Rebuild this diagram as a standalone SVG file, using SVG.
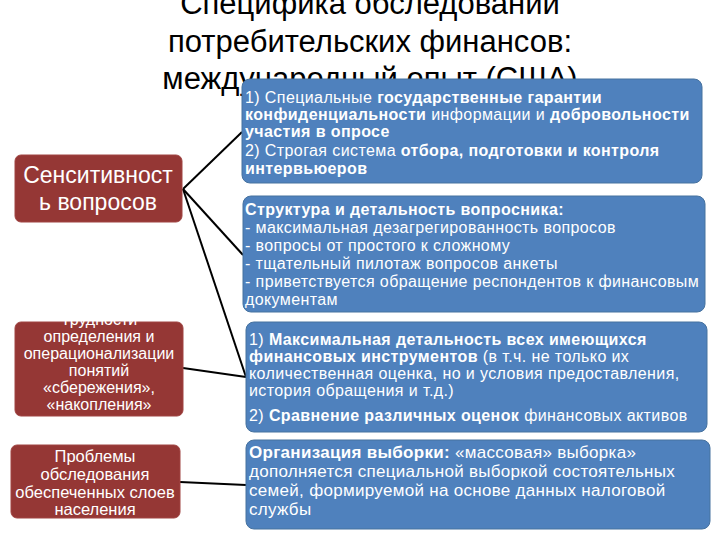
<svg xmlns="http://www.w3.org/2000/svg" width="720" height="540" viewBox="0 0 720 540">
<style>
.title{font-family:"Liberation Sans",Arial,sans-serif;font-size:31px;fill:#000;text-anchor:middle}
.red{fill:#953735;stroke:#a04543;stroke-width:1}
.blue{fill:#4f81bd;stroke:#46729f;stroke-width:1}
.rt{font-family:"Liberation Sans",Arial,sans-serif;fill:#fff;text-anchor:middle}
.bt{font-family:"Liberation Sans",Arial,sans-serif;fill:#fff;font-size:16px;letter-spacing:0.4px}
.bt4{font-size:17px;letter-spacing:0.3px}
.b{font-weight:bold}
.conn line{stroke:#000;stroke-width:2}
</style>
<rect width="720" height="540" fill="#fff"/>
<g id="title">
<text class="title" x="370" y="14">Специфика обследований</text>
<text class="title" x="370" y="52">потребительских финансов:</text>
<text class="title" x="370" y="89">международный опыт (США)</text>
</g>
<g class="conn" id="connectors">
<line x1="183" y1="189" x2="242" y2="132"/>
<line x1="183" y1="189" x2="243" y2="255"/>
<line x1="183" y1="189" x2="246" y2="377"/>
<line x1="183" y1="368" x2="246" y2="377"/>
<line x1="180" y1="482" x2="246" y2="485"/>
</g>
<g id="n_sens">
<rect class="red" x="15" y="155" width="167" height="67" rx="6"/>
<text class="rt" font-size="23" x="98" y="183">Сенситивност</text>
<text class="rt" font-size="23" x="98" y="210">ь вопросов</text>
</g>
<g id="n_def">
<rect class="red" x="15" y="322" width="168" height="94" rx="6"/>
<text class="rt" font-size="16" x="99" y="325">Трудности</text>
<text class="rt" font-size="16" x="99" y="342">определения и</text>
<text class="rt" font-size="16" x="99" y="359">операционализации</text>
<text class="rt" font-size="16" x="99" y="376">понятий</text>
<text class="rt" font-size="16" x="99" y="393">«сбережения»,</text>
<text class="rt" font-size="16" x="99" y="410">«накопления»</text>
</g>
<g id="n_rich">
<rect class="red" x="11" y="445" width="169" height="73" rx="6"/>
<text class="rt" font-size="16.5" x="95" y="462">Проблемы</text>
<text class="rt" font-size="16.5" x="95" y="480">обследования</text>
<text class="rt" font-size="16.5" x="95" y="498">обеспеченных слоев</text>
<text class="rt" font-size="16.5" x="95" y="515">населения</text>
</g>
<g id="n_guar">
<rect class="blue" x="242" y="79" width="460" height="104" rx="8"/>
<text class="bt" x="245" y="103">1) Специальные <tspan class="b">государственные гарантии</tspan></text>
<text class="bt" x="245" y="120"><tspan class="b">конфиденциальности</tspan> информации и <tspan class="b">добровольности</tspan></text>
<text class="bt" x="245" y="137"><tspan class="b">участия в опросе</tspan></text>
<text class="bt" x="245" y="156">2) Строгая система <tspan class="b">отбора, подготовки и контроля</tspan></text>
<text class="bt" x="245" y="174"><tspan class="b">интервьюеров</tspan></text>
</g>
<g id="n_struct">
<rect class="blue" x="243" y="196" width="462" height="116" rx="8"/>
<text class="bt" x="245" y="215"><tspan class="b">Структура и детальность вопросника:</tspan></text>
<text class="bt" x="245" y="233">- максимальная дезагрегированность вопросов</text>
<text class="bt" x="245" y="251">- вопросы от простого к сложному</text>
<text class="bt" x="245" y="269">- тщательный пилотаж вопросов анкеты</text>
<text class="bt" x="245" y="287">- приветствуется обращение респондентов к финансовым</text>
<text class="bt" x="245" y="305">документам</text>
</g>
<g id="n_instr">
<rect class="blue" x="246" y="322" width="461" height="110" rx="8"/>
<text class="bt" x="249" y="345">1) <tspan class="b">Максимальная детальность  всех имеющихся</tspan></text>
<text class="bt" x="249" y="362"><tspan class="b">финансовых инструментов</tspan> (в т.ч. не только их</text>
<text class="bt" x="249" y="379">количественная оценка, но и условия предоставления,</text>
<text class="bt" x="249" y="396">история обращения и т.д.)</text>
<text class="bt" x="249" y="421">2) <tspan class="b">Сравнение различных оценок</tspan> финансовых активов</text>
</g>
<g id="n_sample">
<rect class="blue" x="246" y="440" width="464" height="89" rx="8"/>
<text class="bt bt4" x="249" y="458"><tspan class="b">Организация выборки:</tspan> «массовая» выборка»</text>
<text class="bt bt4" x="249" y="477">дополняется специальной выборкой состоятельных</text>
<text class="bt bt4" x="249" y="496">семей, формируемой на основе данных налоговой</text>
<text class="bt bt4" x="249" y="515">службы</text>
</g>
</svg>
